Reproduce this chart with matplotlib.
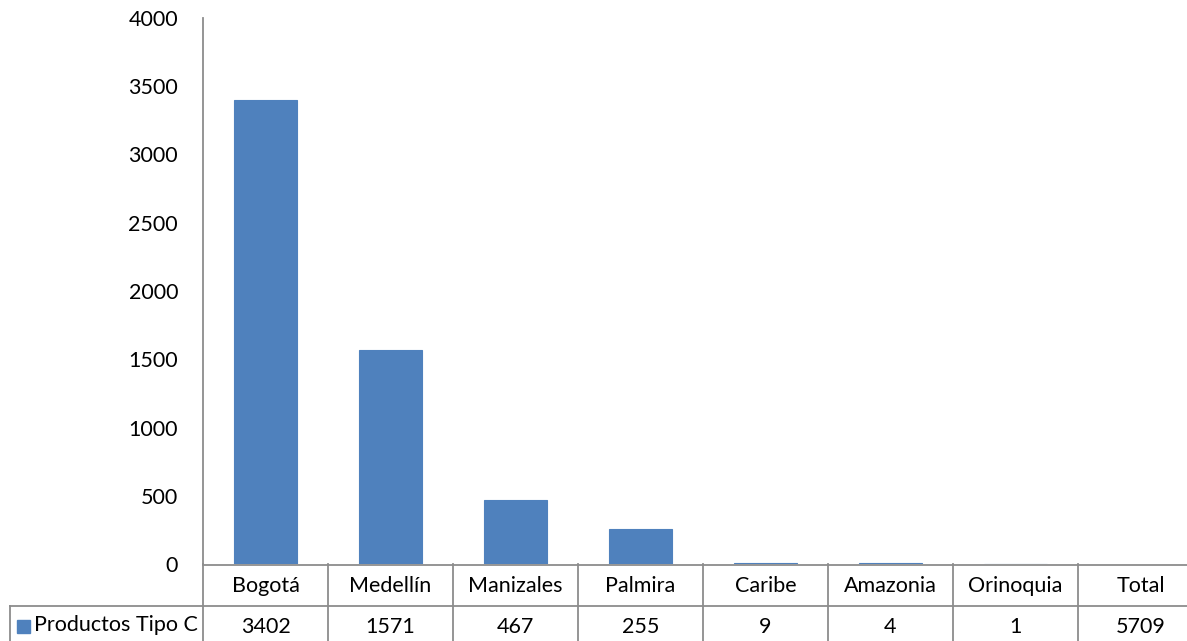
import matplotlib
matplotlib.use("Agg")
import matplotlib.pyplot as plt
import matplotlib.transforms as mtransforms
from matplotlib.patches import Rectangle

# data
categories = ["Bogotá", "Medellín", "Manizales", "Palmira", "Caribe",
              "Amazonia", "Orinoquia", "Total"]
values = [3402, 1571, 467, 255, 9, 4, 1, 5709]
series_name = "Productos Tipo C"
yticks = [0, 500, 1000, 1500, 2000, 2500, 3000, 3500, 4000]

W, H = 1187, 641
BAR = "#4F81BD"
LINE = "#8C8C8C"
FS = 15.5

plt.rcParams["font.family"] = ["Lato", "DejaVu Sans"]

fig = plt.figure(figsize=(W / 100, H / 100), dpi=100)


def fy(y):
    return 1 - y / H


# plot area: x from 203 px, 125 px per category; y from 564 (0) to 18 (4000)
ax = fig.add_axes([203 / W, fy(564), 1000 / W, (564 - 18) / H])
n = len(categories)
xs = [i + 0.5 for i in range(n)]
# the Total column is only listed in the table, not drawn as a bar
ax.bar(xs[:-1], values[:-1], width=0.5, color=BAR, edgecolor=BAR,
       linewidth=0.8, zorder=5)
ax.set_xlim(0, n)
ax.set_ylim(0, 4000)
ax.set_yticks(yticks)
ax.set_yticklabels([str(t) for t in yticks], fontsize=FS)
ax.tick_params(axis="y", length=0, pad=18)
ax.set_xticks([])
for s in ["top", "right"]:
    ax.spines[s].set_visible(False)
for s in ["left", "bottom"]:
    ax.spines[s].set_color(LINE)
    ax.spines[s].set_linewidth(1.3)
    ax.spines[s].set_zorder(1)
ax.spines["bottom"].set_position(("outward", 1))

# data table below the axis
tr = mtransforms.blended_transform_factory(ax.transData, fig.transFigure)
row1, row2, bottom = 564, 606, 660
line_kw = dict(color=LINE, lw=1.3, clip_on=False)

for i in range(n + 1):
    fig.add_artist(plt.Line2D([i, i], [fy(row1), fy(bottom)], transform=tr, **line_kw))
fig.add_artist(plt.Line2D([10 / W, 1], [fy(row2), fy(row2)],
                          transform=fig.transFigure, **line_kw))
fig.add_artist(plt.Line2D([10 / W, 10 / W], [fy(row2), fy(bottom)],
                          transform=fig.transFigure, **line_kw))

for x, cat, v in zip(xs, categories, values):
    fig.text(x, fy(586), cat, transform=tr, ha="center", va="center", fontsize=FS)
    fig.text(x, fy(627), str(v), transform=tr, ha="center", va="center", fontsize=FS)

# legend key in the table's row header
fig.add_artist(Rectangle((17 / W, fy(633)), 13 / W, 13 / H, color=BAR,
                         transform=fig.transFigure))
fig.text(34 / W, fy(625), series_name, ha="left", va="center", fontsize=FS)

fig.savefig("out.png", dpi=100, facecolor="white")
